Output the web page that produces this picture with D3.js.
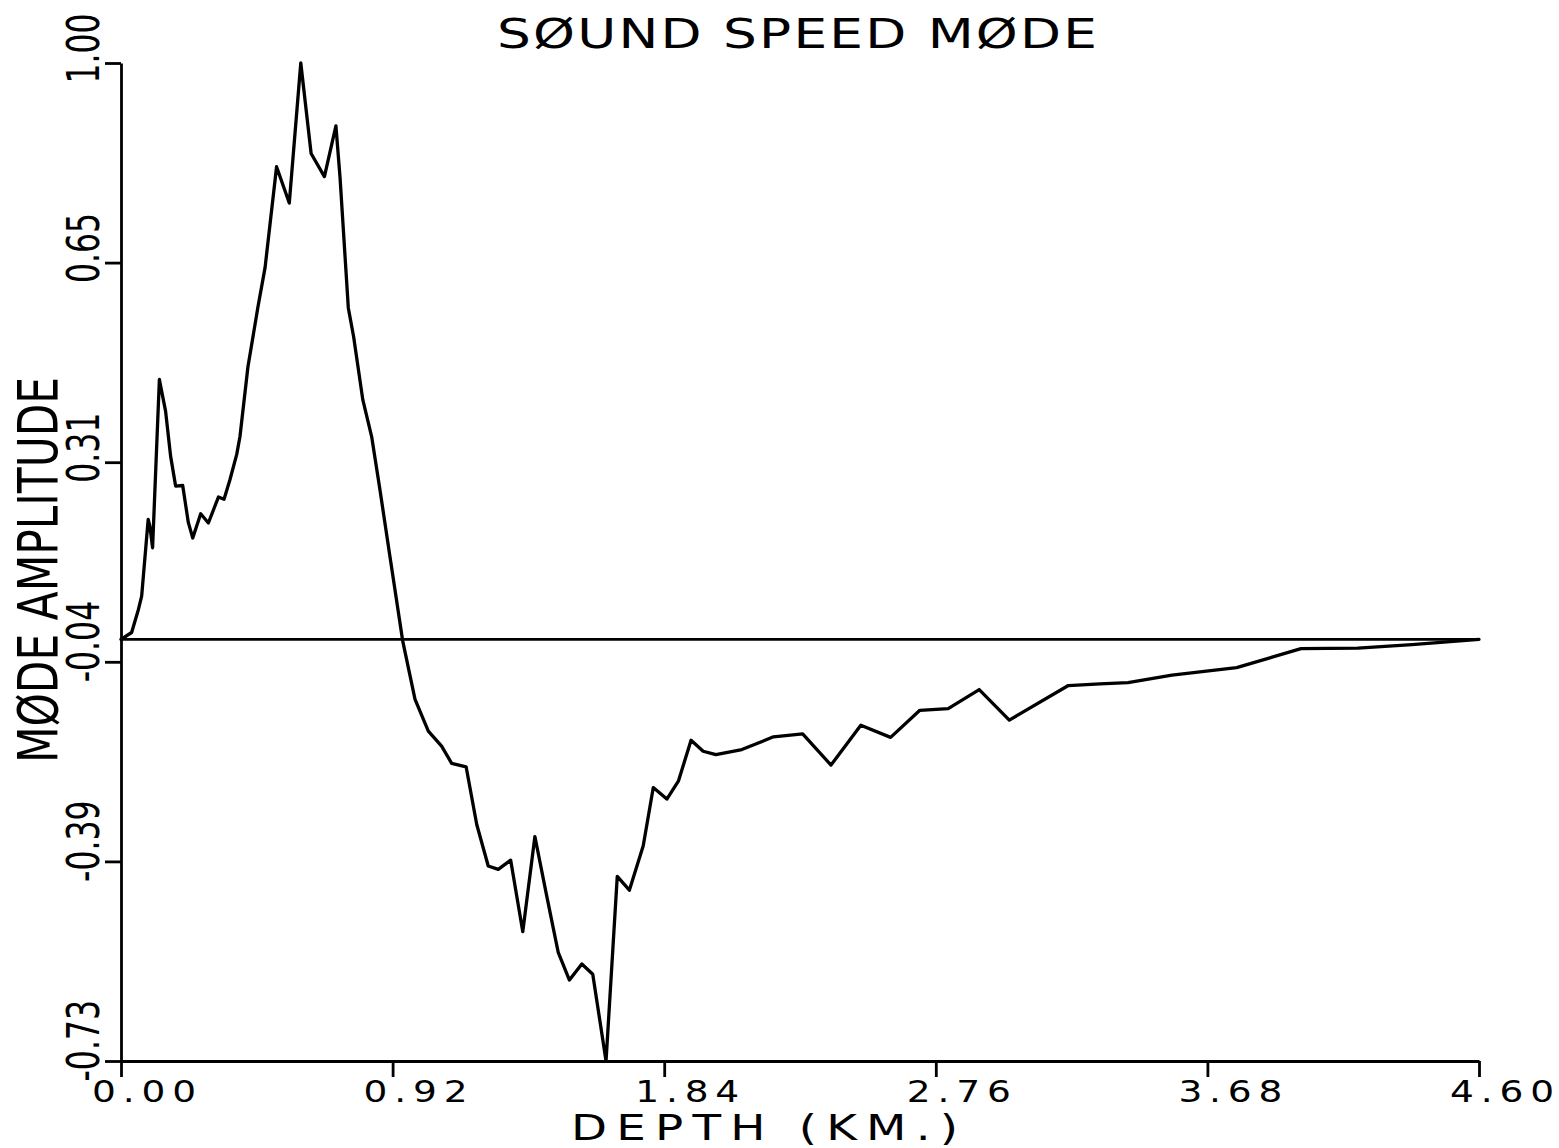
<!DOCTYPE html>
<html>
<head>
<meta charset="utf-8">
<script src="https://cdn.jsdelivr.net/npm/d3@7"></script>
<style>
  html, body { margin: 0; padding: 0; background: #fff; }
  svg { display: block; }
  text { font-family: "DejaVu Sans", sans-serif; fill: #000; }
</style>
</head>
<body>
<svg id="chart" width="1559" height="1148"></svg>
<script>
// Depth (km) of each sample of the mode
const depth = [
  0.000, 0.036, 0.059, 0.070, 0.092, 0.098, 0.107, 0.130, 0.151, 0.168,
  0.185, 0.209, 0.228, 0.243, 0.270, 0.296, 0.330, 0.349, 0.369, 0.392,
  0.403, 0.430, 0.464, 0.488, 0.527, 0.570, 0.609, 0.644, 0.689, 0.728,
  0.742, 0.770, 0.788, 0.819, 0.849, 0.877, 0.911, 0.954, 0.996, 1.041,
  1.086, 1.120, 1.169, 1.205, 1.244, 1.278, 1.320, 1.361, 1.402, 1.442,
  1.481, 1.519, 1.561, 1.598, 1.643, 1.681, 1.722, 1.769, 1.803, 1.849,
  1.888, 1.931, 1.972, 2.015, 2.103, 2.148, 2.210, 2.309, 2.405, 2.506,
  2.607, 2.706, 2.802, 2.907, 3.009, 3.209, 3.316, 3.411, 3.560, 3.779,
  3.997, 4.190, 4.373, 4.600
];

// Normalised mode amplitude at each depth
const amplitude = [
  0.000, 0.012, 0.052, 0.075, 0.208, 0.196, 0.159, 0.451, 0.396, 0.318,
  0.266, 0.267, 0.203, 0.176, 0.218, 0.202, 0.247, 0.243, 0.277, 0.321,
  0.352, 0.473, 0.577, 0.645, 0.820, 0.757, 1.000, 0.843, 0.803, 0.891,
  0.801, 0.575, 0.525, 0.416, 0.352, 0.260, 0.144, -0.002, -0.104, -0.159,
  -0.185, -0.215, -0.221, -0.321, -0.393, -0.399, -0.383, -0.507, -0.342, -0.445,
  -0.543, -0.591, -0.563, -0.581, -0.7314, -0.411, -0.435, -0.358, -0.257, -0.277,
  -0.246, -0.175, -0.194, -0.200, -0.191, -0.182, -0.169, -0.164, -0.218, -0.149,
  -0.170, -0.123, -0.120, -0.087, -0.140, -0.080, -0.077, -0.075, -0.062, -0.049,
  -0.016, -0.015, -0.009, 0.000
];

const xTickValues = [0, 0.92, 1.84, 2.76, 3.68, 4.60];
const xTickLabels = ["0.00", "0.92", "1.84", "2.76", "3.68", "4.60"];
const yTickLabels = ["-0.73", "-0.39", "-0.04", "0.31", "0.65", "1.00"];

const titleText = "SØUND SPEED MØDE";
const xTitleText = "DEPTH (KM.)";
const yTitleText = "MØDE AMPLITUDE";

// Scales
const yMin = d3.min(amplitude), yMax = d3.max(amplitude);
const x = d3.scaleLinear().domain([0, 4.60]).range([121, 1479]);
const y = d3.scaleLinear().domain([yMin, yMax]).range([1061, 63]);
const yTickValues = d3.range(6).map(i => yMin + i * (yMax - yMin) / 5);

const svg = d3.select("#chart");

// Horizontal plotter-style text: glyphs widened by sx, spread to a given length
function wideText(parent, px, py, sx, fontSize, length, str) {
  return parent.append("text")
    .attr("transform", `translate(${px},${py}) scale(${sx},1)`)
    .attr("text-anchor", "start")
    .attr("font-size", fontSize)
    .attr("fill", "#000")
    .attr("textLength", length / sx)
    .attr("lengthAdjust", "spacing")
    .text(str);
}

// Y axis (ticks point left, labels rotated to read upward, narrowed along the text)
const yAxis = svg.append("g")
  .attr("transform", `translate(${x(0)},0)`)
  .call(d3.axisLeft(y)
    .tickValues(yTickValues)
    .tickFormat((d, i) => yTickLabels[i])
    .tickSize(16)
    .tickSizeOuter(0));
yAxis.select(".domain").attr("stroke", "#000").attr("stroke-width", 2.8);
yAxis.selectAll(".tick line").attr("stroke", "#000").attr("stroke-width", 2.8);
yAxis.selectAll(".tick text")
  .attr("x", 0).attr("dy", null).attr("y", 0)
  .attr("text-anchor", "start")
  .attr("transform", "translate(-22,20) rotate(-90) scale(0.7,1)")
  .attr("font-size", 45)
  .attr("font-family", "DejaVu Sans, sans-serif");

// X axis (ticks point down); labels redrawn in the wide style
const xAxis = svg.append("g")
  .attr("transform", `translate(0,${y(yMin)})`)
  .call(d3.axisBottom(x)
    .tickValues(xTickValues)
    .tickFormat((d, i) => xTickLabels[i])
    .tickSize(16)
    .tickSizeOuter(0));
xAxis.select(".domain").attr("stroke", "#000").attr("stroke-width", 2.8);
xAxis.selectAll(".tick line").attr("stroke", "#000").attr("stroke-width", 2.8);
xAxis.selectAll(".tick text").remove();
xAxis.selectAll(".tick").each(function (d, i) {
  wideText(d3.select(this), -29.5, 41, 1.25, 30, 104, xTickLabels[i]);
});

// Zero reference line
svg.append("line")
  .attr("x1", x(0)).attr("x2", x(4.60))
  .attr("y1", y(0)).attr("y2", y(0))
  .attr("stroke", "#000").attr("stroke-width", 2.8);

// Mode curve
const line = d3.line()
  .x((d, i) => x(depth[i]))
  .y(d => y(d));
svg.append("path")
  .datum(amplitude)
  .attr("d", line)
  .attr("fill", "none")
  .attr("stroke", "#000")
  .attr("stroke-width", 3.3)
  .attr("stroke-linejoin", "round")
  .attr("stroke-linecap", "round");

// Title
wideText(svg, 497, 48, 1.3, 41, 600, titleText);

// X axis title
wideText(svg, 571, 1140, 1.3, 36, 387, xTitleText);

// Y axis title (reads bottom to top)
svg.append("text")
  .attr("transform", "translate(57,763) rotate(-90)")
  .attr("font-size", 55)
  .attr("textLength", 386)
  .attr("lengthAdjust", "spacingAndGlyphs")
  .text(yTitleText);
</script>
</body>
</html>
